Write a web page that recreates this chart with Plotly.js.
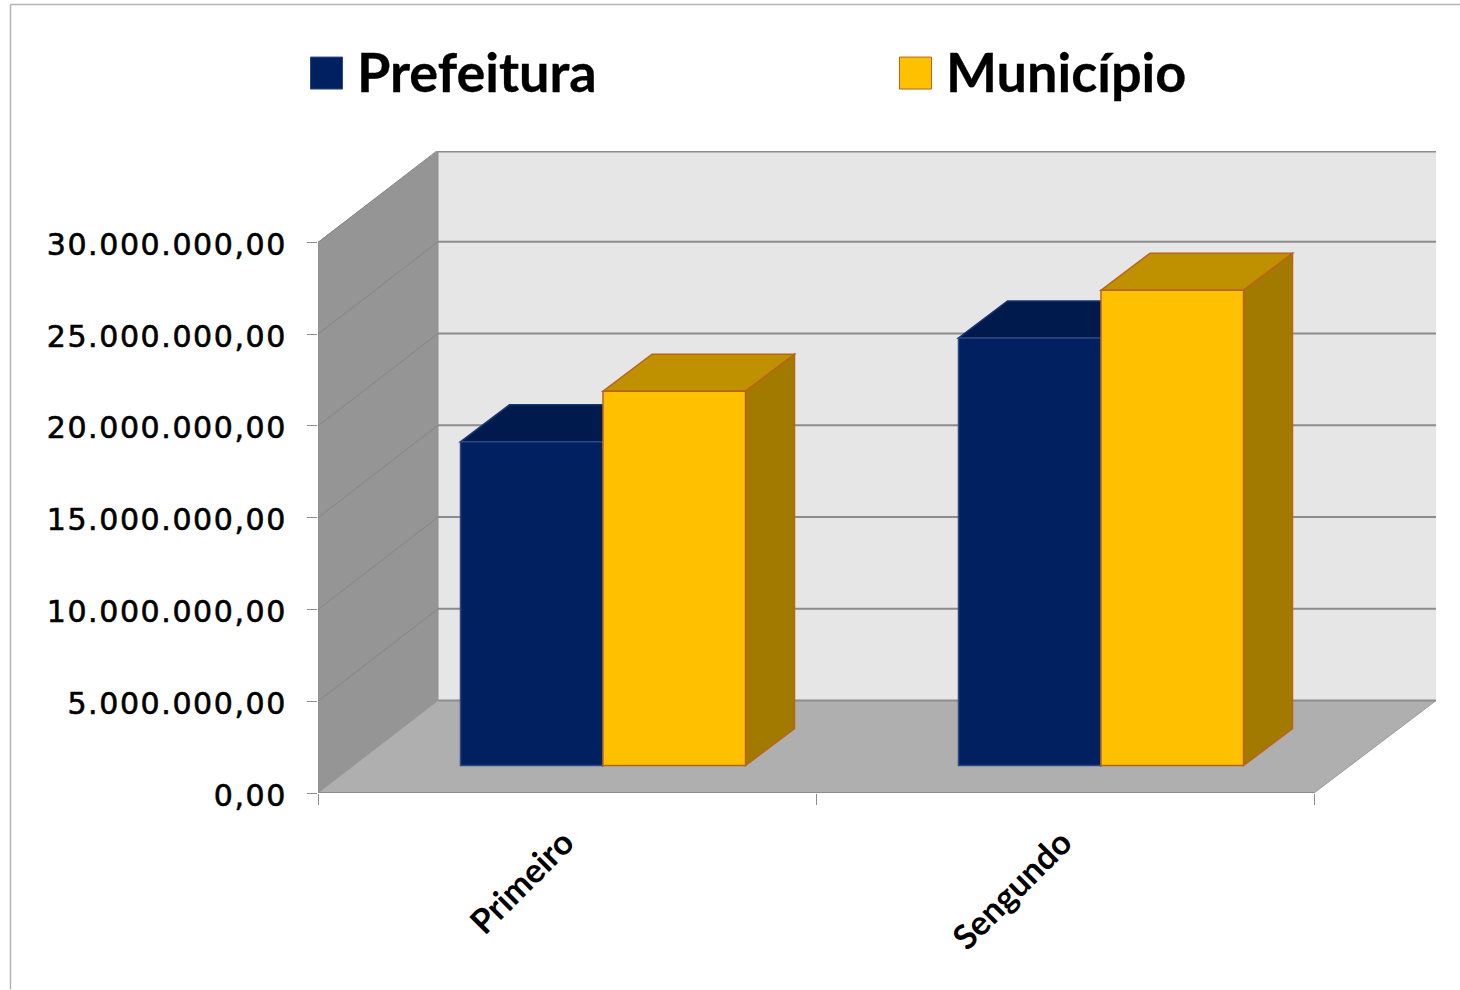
<!DOCTYPE html>
<html>
<head>
<meta charset="utf-8">
<script src="https://cdn.plot.ly/plotly-3.0.1.min.js"></script>
<style>
html,body{margin:0;padding:0;background:#fff}
.ytick text{letter-spacing:1.6px;stroke:#000;stroke-width:.6px}
.annotation-text{stroke:#000;stroke-width:.3px}
</style>
</head>
<body>
<div id="chart" style="width:1460px;height:990px"></div>
<script>
const categories = ['Primeiro', 'Sengundo'];
const seriesNames = ['Prefeitura', 'Município'];
const prefeitura = [17640000, 23300000];
const municipio = [20400000, 25900000];
const yTicks = [0, 5000000, 10000000, 15000000, 20000000, 25000000, 30000000];
const yTickLabels = ['0,00', '5.000.000,00', '10.000.000,00', '15.000.000,00', '20.000.000,00', '25.000.000,00', '30.000.000,00'];

const W = 1460, H = 990, L = 318, R = 1436, T = 151, B = 793.5;
const catPx = 498, valPx = 551 / 30000000;
const xMax = (R - L) / catPx, yMax = (B - T) / valPx;
const wallDX = 120 / catPx, wallDY = 92.5 / valPx;
const barW = 142.5 / catPx;
const barShift = 36 / catPx, barBase = 27.5 / valPx;
const barDX = 49 / catPx, barDY = 37 / valPx;
const centers = categories.map((_, i) => i + 0.5);
const labelNudge = -3 / catPx;

const poly = pts => 'M' + pts.map(p => p[0] + ',' + p[1]).join('L') + 'Z';
const face = (pts, fill, line, w) => ({type: 'path', xref: 'x', yref: 'y', layer: 'below', path: poly(pts), fillcolor: fill, line: {color: line, width: w === undefined ? 1 : w}});
const seg = (x0, y0, x1, y1, color, w) => ({type: 'line', xref: 'x', yref: 'y', layer: 'below', x0, y0, x1, y1, line: {color, width: w}});
const px = x => (x - L) / (R - L);
const py = y => (B - y) / (B - T);

const shapes = [];
const nCat = categories.length;
const topV = yTicks[yTicks.length - 1];
shapes.push(face([[wallDX, wallDY], [xMax, wallDY], [xMax, yMax], [wallDX, yMax]], '#e6e6e6', '#e6e6e6', 0));
shapes.push(face([[0, 0], [wallDX, wallDY], [wallDX, yMax], [0, topV]], '#959595', '#8e8e8e', 1));
shapes.push(face([[0, 0], [nCat, 0], [xMax, wallDY], [wallDX, wallDY]], '#afafaf', '#9a9a9a', 1));
yTicks.forEach(v => {
  if (v > 0) shapes.push(seg(0, v, wallDX, v + wallDY, '#868686', 1));
  shapes.push(seg(wallDX, v + wallDY, xMax, v + wallDY, '#8c8c8c', 2));
});
shapes.push(seg(wallDX, yMax, xMax, yMax, '#8c8c8c', 3));
shapes.push(seg(0, 0, nCat, 0, '#8c8c8c', 2));

function depth(x0, x1, v, topFill, sideFill, edge) {
  const b = barBase, t = barBase + v;
  shapes.push(face([[x1, b], [x1 + barDX, b + barDY], [x1 + barDX, t + barDY], [x1, t]], sideFill, edge, 1.5));
  shapes.push(face([[x0, t], [x1, t], [x1 + barDX, t + barDY], [x0 + barDX, t + barDY]], topFill, edge, 1.5));
}
centers.forEach((c, i) => {
  const m = c + barShift;
  depth(m - barW, m, prefeitura[i], '#001a4d', '#001a4d', '#1a3672');
  depth(m, m + barW, municipio[i], '#bf9000', '#a37a00', '#b8651b');
});

// frame
shapes.push({type: 'line', xref: 'paper', yref: 'paper', x0: px(10.5), x1: px(10.5), y0: py(4.5), y1: py(990), line: {color: '#b4b4b4', width: 1.5}});
shapes.push({type: 'line', xref: 'paper', yref: 'paper', x0: px(10.5), x1: px(1460), y0: py(4.5), y1: py(4.5), line: {color: '#b4b4b4', width: 1.5}});
// legend swatches
const legendSw = [[310.5, '#002060', '#2a4a85'], [899.5, '#ffc000', '#b8651b']];
legendSw.forEach(s => shapes.push({type: 'rect', xref: 'paper', yref: 'paper', x0: px(s[0]), x1: px(s[0] + 32), y0: py(57), y1: py(89), fillcolor: s[1], line: {color: s[2], width: 1}}));

const annotations = [[358, seriesNames[0]], [947, seriesNames[1]]].map(a => ({
  xref: 'paper', yref: 'paper', x: px(a[0]), y: py(71), xanchor: 'left', yanchor: 'middle', showarrow: false, align: 'left',
  xshift: -3, text: a[1], font: {family: 'Lato', size: 54, weight: 700, color: '#000'}
}));

const barTrace = (name, vals, offs, color, edge) => ({
  type: 'bar', name, x: centers.map(c => c + barShift + offs), y: vals, base: vals.map(() => barBase),
  width: barW, marker: {color, line: {color: edge, width: 1.5}}, hoverinfo: 'skip', showlegend: false
});
const data = [
  barTrace(seriesNames[0], prefeitura, -barW / 2, '#002060', '#2a4a85'),
  barTrace(seriesNames[1], municipio, barW / 2, '#ffc000', '#b8651b')
];
const layout = {
  width: W, height: H, autosize: false,
  margin: {l: L, r: W - R, t: T, b: H - B, pad: 0},
  paper_bgcolor: '#fff', plot_bgcolor: 'rgba(0,0,0,0)',
  barmode: 'overlay', showlegend: false,
  shapes, annotations,
  xaxis: {
    type: 'linear', range: [0, xMax], showgrid: false, zeroline: false, showline: false,
    tickmode: 'array', tickvals: centers.map(c => c + labelNudge), ticktext: categories, ticks: '', tickangle: -45,
    ticklabelstandoff: 22, tickfont: {family: 'Lato', size: 34, weight: 700, color: '#000'},
    minor: {tickmode: 'array', tickvals: [0, 1, 2], ticks: 'outside', ticklen: 11, tickcolor: '#8c8c8c', tickwidth: 1, showgrid: false}
  },
  yaxis: {
    type: 'linear', range: [0, yMax], showgrid: false, zeroline: false, showline: false,
    tickmode: 'array', tickvals: yTicks, ticktext: yTickLabels, ticks: 'outside', ticklen: 10, tickcolor: '#8c8c8c', tickwidth: 1,
    ticklabelstandoff: 14, tickfont: {family: 'DejaVu Sans', size: 30, color: '#000'}
  }
};
Plotly.newPlot('chart', data, layout, {displayModeBar: false, staticPlot: true}).then(() => {
  document.querySelectorAll('.ytick text').forEach(t => t.setAttribute('dy', '2'));
});
</script>
</body>
</html>
